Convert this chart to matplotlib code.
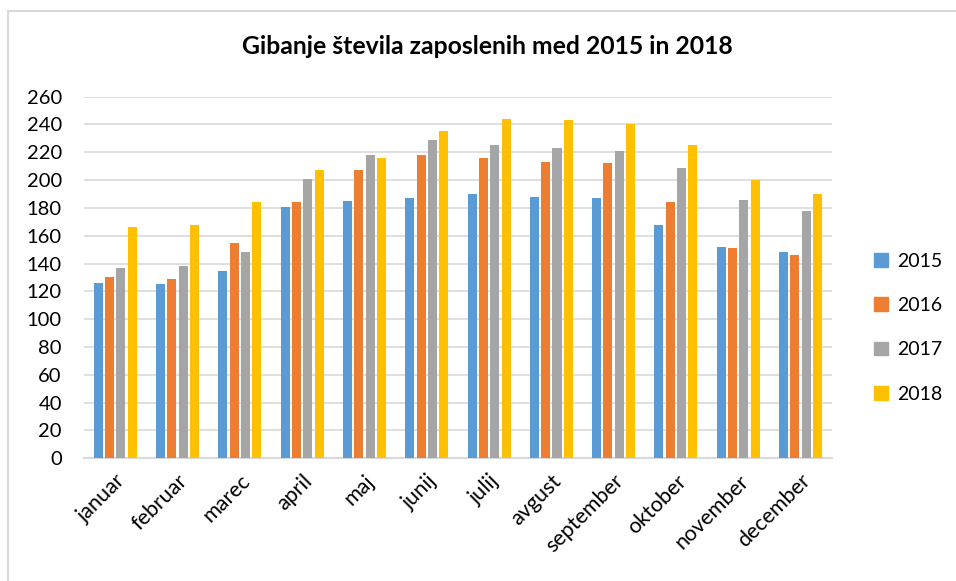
import numpy as np
import matplotlib.pyplot as plt
from matplotlib.lines import Line2D

plt.rcParams['font.family'] = ['Lato', 'DejaVu Sans']

months = ['januar', 'februar', 'marec', 'april', 'maj', 'junij',
          'julij', 'avgust', 'september', 'oktober', 'november', 'december']
years = ['2015', '2016', '2017', '2018']
v2015 = [126, 125, 135, 181, 185, 187, 190, 188, 187, 168, 152, 148]
v2016 = [130, 129, 155, 184, 207, 218, 216, 213, 212, 184, 151, 146]
v2017 = [137, 138, 148, 201, 218, 229, 225, 223, 221, 209, 186, 178]
v2018 = [166, 168, 184, 207, 216, 235, 244, 243, 240, 225, 200, 190]
colors = ['#5b9bd5', '#ed7d31', '#a5a5a5', '#ffc000']

fig = plt.figure(figsize=(9.56, 5.81), dpi=100)
ax = fig.add_axes([0.0879, 0.2112, 0.7821, 0.6224])

x = np.arange(len(months))
series = [v2015, v2016, v2017, v2018]
width = 0.145
pitch = 0.182
for i, (vals, c, lab) in enumerate(zip(series, colors, years)):
    ax.bar(x + (i - 1.5) * pitch, vals, width, color=c, label=lab, zorder=3)

ax.set_xlim(-0.5, len(months) - 0.5)
ax.set_ylim(0, 260)
ax.set_yticks(range(0, 261, 20))
ax.grid(axis='y', color='#d9d9d9', linewidth=1.2, zorder=0)
for s in ['top', 'right', 'left']:
    ax.spines[s].set_visible(False)
ax.spines['bottom'].set_color('#d9d9d9')
ax.spines['bottom'].set_linewidth(1.5)
ax.tick_params(length=0, colors='black')
ax.tick_params(axis='y', pad=16, labelsize=14.5)
ax.set_xticks(x)
ax.set_xticklabels(months, rotation=45, ha='right', rotation_mode='anchor')
ax.tick_params(axis='x', pad=9, labelsize=15.5)

fig.text(0.51, 0.92, 'Gibanje števila zaposlenih med 2015 in 2018',
         ha='center', va='center', fontsize=17.8, fontweight='bold')

handles = [plt.Rectangle((0, 0), 1, 1, color=c) for c in colors]
fig.legend(handles, years, loc='center left', bbox_to_anchor=(0.896, 0.436),
           frameon=False, fontsize=14, handlelength=0.7, handleheight=0.7,
           handletextpad=0.5, labelspacing=1.4)

# chart border (light gray), only top and left visible in the reference
fig.add_artist(Line2D([7.5 / 956, 1], [1 - 11 / 581, 1 - 11 / 581],
                      transform=fig.transFigure, color='#d9d9d9', linewidth=1.5))
fig.add_artist(Line2D([7.5 / 956, 7.5 / 956], [0, 1 - 11 / 581],
                      transform=fig.transFigure, color='#d9d9d9', linewidth=1.5))

fig.savefig('out.png', dpi=100)
